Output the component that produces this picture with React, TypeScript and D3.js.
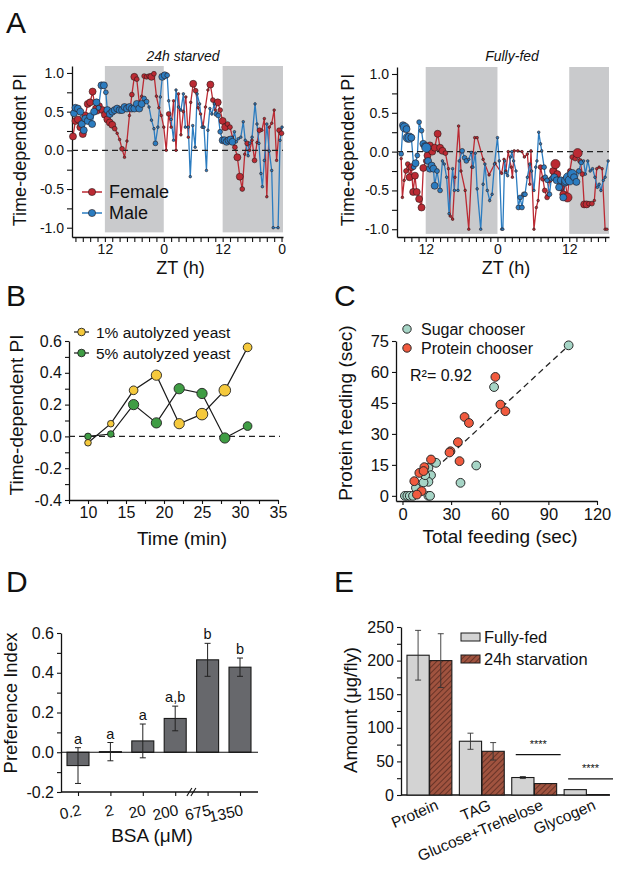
import React, { useRef, useEffect } from "react";
import * as d3 from "d3";

type Pt = [number, number, number]; // [hours since first ZT12, PI, flies feeding]

// ---- Panel A: time-dependent PI, 24h starved ----
const starvedFemale: Pt[] = [
  [-6.5, 0.18, 3], [-6, 0.38, 3], [-5.5, 0.4, 3], [-5, 0.3, 3], [-4.5, 0.21, 3], [-4, 0.45, 3],
  [-3.5, 0.6, 3], [-3, 0.62, 3], [-2.5, 0.76, 3], [-2, 0.55, 2], [-1.5, 0.5, 2], [-1, 0.58, 2],
  [-0.5, 0.52, 3], [0, 0.46, 3], [0.5, 0.4, 3], [1, 0.36, 3], [1.5, 0.33, 3], [2, 0.28, 2],
  [2.5, 0.22, 1], [3, 0.14, 1], [3.5, 0.02, 2], [4, -0.09, 1], [4.5, 0.12, 1], [5, 0.45, 1],
  [5.5, 0.72, 2], [6, 0.95, 3], [6.5, 0.92, 2], [7, 0.62, 1], [7.5, 0.7, 1], [8, 0.96, 2],
  [8.5, 0.95, 2], [9, 0.96, 2], [9.5, 0.95, 3], [10, 0.99, 2], [10.5, 0.7, 1], [11, 0.55, 1],
  [11.5, 0.45, 1], [12, 0.3, 1], [12.5, 0.0, 1], [13, 0.47, 2], [13.5, 0.3, 1], [14, 0.64, 1],
  [14.5, 0.0, 1], [15, 0.73, 1], [15.5, 0.2, 1], [16, 0.5, 1], [16.5, 0.69, 1], [17, 0.17, 1],
  [17.5, 0.62, 1], [18, 0.86, 3], [18.5, 0.77, 2], [19, 0.55, 1], [19.5, 0.47, 1], [20, 0.3, 1],
  [20.5, 0.56, 1], [21, 0.78, 1], [21.5, 0.85, 3], [22, 0.65, 2], [22.5, 0.52, 1], [23, 0.62, 3],
  [23.5, 0.52, 2], [24, 0.38, 3], [24.5, 0.3, 3], [25, 0.34, 2], [25.5, 0.3, 2], [26, 0.17, 1],
  [26.5, 0.04, 2], [27, -0.09, 3], [27.5, -0.34, 3], [28, -0.5, 2], [28.5, -0.05, 1], [29, 0.09, 2],
  [29.5, 0.0, 1], [30, 0.13, 1], [30.5, -0.13, 2], [31, 0.1, 1], [31.5, 0.26, 2], [32, 0.26, 1],
  [32.5, 0.41, 1], [33, -0.6, 1], [33.5, 0.3, 1], [34, 0.35, 1], [34.5, 0.52, 1], [35, -0.13, 1],
  [35.5, 0.26, 2], [36, 0.22, 2],
];
const starvedMale: Pt[] = [
  [-6.3, 0.48, 3], [-6, 0.55, 3], [-5.5, 0.54, 3], [-5, 0.5, 3], [-4.7, 0.34, 3], [-4.3, 0.26, 3],
  [-4, 0.41, 3], [-3.5, 0.38, 3], [-3, 0.44, 3], [-2.6, 0.34, 3], [-2.2, 0.5, 3], [-1.7, 0.62, 3],
  [-1.3, 0.55, 2], [-0.7, 0.84, 3], [-0.2, 0.84, 3], [0.2, 0.75, 2], [0.5, 0.52, 3], [1, 0.47, 3],
  [1.5, 0.5, 3], [2, 0.52, 3], [2.5, 0.54, 3], [3, 0.52, 3], [3.5, 0.52, 3], [4, 0.56, 3],
  [4.5, 0.54, 3], [5, 0.56, 3], [5.5, 0.54, 3], [6, 0.54, 3], [6.5, 0.6, 3], [7, 0.54, 3],
  [7.5, 0.6, 3], [8, 0.67, 2], [8.5, 0.63, 2], [9, 0.56, 1], [9.5, 0.39, 1], [10, 0.28, 1],
  [10.3, 0.09, 2], [10.8, 0.3, 1], [11.3, 0.69, 1], [11.7, 0.95, 3], [12.2, 0.97, 3], [12.7, 0.97, 2],
  [13, 0.64, 1], [13.5, 0.4, 1], [14, 0.13, 1], [14.5, 0.78, 1], [15, 0.56, 1], [15.5, 0.52, 1],
  [16, 0.73, 1], [16.4, 0.3, 1], [17, 0.3, 1], [17.4, -0.34, 1], [17.9, 0.32, 1], [18.4, 0.04, 1],
  [18.8, 0.73, 1], [19.3, 0.6, 1], [19.8, 0.3, 1], [20.2, 0.3, 1], [20.7, -0.26, 1], [21, 0.26, 1],
  [21.4, 0.54, 1], [21.8, 0.47, 1], [22.3, 0.6, 1], [22.7, 0.47, 2], [23.1, 0.45, 2], [23.5, 0.24, 2],
  [24, 0.13, 3], [24.4, 0.13, 3], [24.8, 0.11, 3], [25.2, 0.13, 3], [25.6, 0.14, 3], [26, 0.11, 3],
  [26.4, 0.24, 1], [26.8, 0.11, 1], [27.2, 0.15, 1], [27.7, 0.17, 1], [28.2, 0.37, 1], [28.6, 0.13, 1],
  [29.2, -0.07, 1], [29.5, 0.09, 1], [30, 0.17, 1], [30.6, 0.6, 1], [31, 0.34, 1], [31.4, 0.09, 1],
  [31.8, -0.3, 1], [32.1, -0.47, 1], [32.5, -0.13, 1], [33, 0.34, 1], [33.5, -0.01, 1], [34, -0.26, 1],
  [34.3, -1.0, 1], [35.3, -1.0, 1], [35.7, 0.13, 1], [36.1, 0.3, 1],
];

// ---- Panel A: time-dependent PI, fully-fed ----
const fedFemale: Pt[] = [
  [-4.1, -0.09, 1], [-3.9, -0.59, 1], [-3.6, -0.37, 1], [-3.3, -0.25, 2], [-3.0, -0.16, 2],
  [-2.7, -0.33, 3], [-2.4, -0.2, 3], [-2.1, -0.52, 3], [-1.8, -0.31, 3], [-1.5, -0.52, 3],
  [-1.1, -0.61, 3], [-0.7, -0.72, 3], [-0.4, -0.21, 3], [0, -0.12, 2], [0.3, -0.05, 3],
  [0.7, 0.08, 3], [1.1, 0.0, 3], [1.5, 0.05, 3], [2.0, 0.23, 3], [2.4, 0.05, 3], [2.8, 0.01, 3],
  [3.3, -0.02, 2], [3.8, -0.22, 1], [4.1, -0.83, 1], [4.5, -0.87, 1], [4.9, -0.33, 1], [5.5, 0.33, 1],
  [5.9, -0.25, 1], [6.6, -0.5, 1], [7.2, -1.0, 1], [7.7, -0.2, 1], [8.2, 0.18, 1], [8.6, 0.18, 1],
  [9.6, -0.1, 1], [10.6, -0.3, 1], [11.6, -0.15, 1], [12.7, -0.28, 1], [13.1, -0.1, 1],
  [13.4, -0.25, 1], [13.8, 0.0, 1], [14.3, -0.2, 1], [14.5, -0.33, 1], [14.8, 0.01, 1], [15.4, 0.01, 1],
  [16.1, 0.0, 1], [16.5, -0.07, 1], [17, -0.03, 1], [17.4, -0.42, 1], [17.6, 0.01, 1], [18.1, -1.0, 1],
  [18.5, -0.72, 1], [18.8, -0.63, 1], [19.2, -0.2, 2], [19.6, -0.35, 2], [19.9, -0.5, 2],
  [20.3, -0.59, 2], [20.7, -0.37, 2], [21.3, -0.25, 3], [21.7, -0.16, 4], [22, -0.29, 3],
  [22.6, -0.46, 3], [23, -0.55, 3], [23.3, -0.37, 3], [23.7, -0.59, 4], [24.1, -0.25, 2],
  [24.5, -0.07, 2], [25, -0.09, 2], [25.4, -0.02, 4], [25.8, -0.12, 2], [26.2, -0.29, 2],
  [26.5, -0.68, 3], [26.9, -0.68, 3], [27.3, -0.67, 2], [27.8, -0.67, 2], [28.2, -0.63, 1],
  [28.6, -0.22, 1], [29, -0.2, 1], [29.5, -0.22, 1], [30, -1.0, 1], [30.3, -1.0, 1],
];
const fedMale: Pt[] = [
  [-4.1, -0.03, 2], [-3.8, 0.34, 3], [-3.5, 0.31, 4], [-3.2, 0.29, 3], [-3.0, 0.18, 4], [-2.7, 0.18, 4],
  [-2.4, 0.18, 3], [-2.0, -0.2, 2], [-1.7, -0.15, 3], [-1.4, -0.05, 2], [-1.1, 0.38, 2], [-0.7, 0.27, 2],
  [-0.4, 0.1, 3], [-0.1, 0.07, 3], [0.1, 0.05, 4], [0.4, -0.12, 3], [0.7, -0.22, 3], [1.0, -0.18, 3],
  [1.3, -0.22, 3], [1.5, -0.44, 3], [1.9, -0.25, 2], [2.4, -0.5, 2], [2.8, -0.12, 1], [3.1, -0.16, 1],
  [3.5, -0.33, 1], [3.9, -0.8, 1], [4.5, -0.22, 1], [4.8, -0.5, 1], [5.4, -0.5, 1], [5.6, -0.12, 1],
  [6.1, 0.01, 2], [6.5, -0.08, 2], [6.8, -0.12, 2], [7.2, -0.1, 1], [7.6, -0.01, 1], [7.9, -0.2, 1],
  [8.3, -0.02, 1], [8.6, -0.48, 1], [9.2, -1.0, 1], [9.6, -0.42, 1], [9.9, -0.16, 1], [10.3, -0.5, 1],
  [10.7, -0.63, 1], [11.1, -0.55, 1], [11.5, -0.16, 1], [12, 0.18, 1], [12.3, -0.12, 1], [12.7, -1.0, 1],
  [12.9, -1.0, 1], [13.2, -0.12, 1], [13.4, -0.27, 1], [13.7, -0.31, 1], [14.2, -0.07, 1], [14.4, 0.0, 1],
  [14.7, -0.12, 1], [15.1, -0.25, 1], [15.5, -0.72, 2], [15.8, -0.59, 2], [16.1, -0.72, 2], [16.4, -0.55, 2],
  [16.6, -0.55, 2], [17, -0.33, 1], [17.4, -0.16, 1], [17.7, -0.25, 1], [18.1, -0.5, 1], [18.4, -0.2, 1],
  [18.6, -0.12, 1], [18.9, 0.25, 1], [19.2, 0.1, 1], [19.4, 0.01, 1], [19.8, -0.2, 2], [20, -0.33, 2],
  [20.3, -0.37, 2], [20.7, -0.55, 2], [21, -0.35, 2], [21.5, -0.33, 3], [21.9, -0.37, 3], [22.3, -0.46, 3],
  [22.6, -0.37, 3], [23, -0.59, 3], [23.3, -0.4, 3], [23.5, -0.37, 4], [23.8, -0.33, 4], [24.1, -0.37, 4],
  [24.5, -0.29, 4], [24.8, -0.33, 3], [25.2, -0.39, 3], [25.6, -0.25, 2], [26, -0.14, 2], [26.4, -0.12, 1],
  [26.7, -0.29, 1], [27.1, -0.12, 1], [27.5, -0.25, 1], [27.9, -0.22, 1], [28.3, -0.33, 1], [28.7, -0.46, 1],
  [29, -0.42, 1], [29.3, -0.5, 1], [29.7, -0.37, 1], [30, -0.33, 1], [30.5, -0.12, 1],
];
const starvedTickLabels: [number, string][] = [[0, "12"], [12, "0"], [24, "12"], [36, "0"]];
const fedTickLabels: [number, string][] = [[0, "12"], [12, "0"], [24, "12"]];

// ---- Panel B ----
const yeastTimes = [10, 13, 16, 19, 22, 25, 28, 31];
const yeast1PI = [-0.04, 0.08, 0.29, 0.385, 0.08, 0.14, 0.29, 0.56];
const yeast1N = [1, 1, 2, 3, 3, 4, 4, 2];
const yeast5PI = [0.0, 0.015, 0.2, 0.085, 0.3, 0.27, -0.01, 0.065];
const yeast5N = [1, 1, 3, 3, 3, 3, 3, 2];

// ---- Panel C ----
const sugarTotal = [102.5, 56.5, 45.5, 35.8, 20.7, 16, 17.6, 16, 13, 14, 8.3, 16, 1.5, 3, 4.5, 6.5, 17];
const sugarProtein = [72.9, 52.7, 14.7, 6.3, 16, 13.5, 10, 6.8, 6.5, 10, 3.9, 0, 0, 0, 0, 0, 0];
const proteinTotal = [57.3, 60.4, 63.5, 38.3, 41, 34.2, 29.6, 29, 35.2, 17.6, 13.5, 10.4, 7.3, 11.8, 8.9, 13];
const proteinProtein = [57.6, 44.2, 41, 38.2, 35.3, 26, 21.6, 21, 16.8, 17.6, 13.9, 11.1, 7.1, 2.3, 0.6, 12];
const fitLine: [number, number][] = [[25, 16.6], [101, 71.7]];

// ---- Panel D ----
const bsaLabels = ["0.2", "2", "20", "200", "675", "1350"];
const bsaPI = [-0.067, 0.003, 0.057, 0.17, 0.465, 0.428];
const bsaErr = [0.09, 0.046, 0.085, 0.062, 0.083, 0.046];
const bsaLetters = ["a", "a", "a", "a,b", "b", "b"];

// ---- Panel E ----
const nutrients = ["Protein", "TAG", "Glucose+Trehelose", "Glycogen"];
const fedAmount = [208, 80, 26, 8];
const fedErr = [37, 12, 1.5, 0];
const starvedAmount = [200, 65, 17, 0.6];
const starvedErr = [40, 13, 0, 0];
const sigLevel = [0, 0, 60, 24];

const FONT = "'Liberation Sans', Arial, sans-serif";
const RED = "#bb2a33";
const BLUE = "#2b7cc0";

function styleAxis(g: any, fs: number) {
  g.select(".domain").attr("stroke", "#111").attr("stroke-width", 1.3);
  g.selectAll(".tick line").attr("stroke", "#111").attr("stroke-width", 1.1);
  g.selectAll(".tick text").attr("font-size", fs).attr("font-family", FONT).attr("fill", "#111");
}

function fmt1(v: number) {
  return Math.abs(v) < 1e-9 ? "0.0" : v.toFixed(1);
}

function text(svg: any, x: number, y: number, s: string, fs: number, anchor = "middle") {
  return svg.append("text").attr("x", x).attr("y", y).attr("font-size", fs)
    .attr("font-family", FONT).attr("fill", "#111").attr("text-anchor", anchor).text(s);
}

function yLabel(svg: any, x: number, y: number, s: string, fs: number) {
  svg.append("text").attr("transform", `translate(${x},${y}) rotate(-90)`)
    .attr("font-size", fs).attr("font-family", FONT).attr("fill", "#111")
    .attr("text-anchor", "middle").attr("dominant-baseline", "middle").text(s);
}

function drawTS(svg: any, o: any) {
  const x = d3.scaleLinear().domain(o.xDom).range(o.xRange);
  const y = d3.scaleLinear().domain(o.yDom).range([o.bottom, o.top]);
  const r = d3.scaleLinear().domain([1, 4]).range([1.3, 4.6]);
  const g = svg.append("g");

  o.bands.forEach(([a, b]: number[]) => {
    g.append("rect").attr("x", x(a)).attr("y", o.top)
      .attr("width", x(b) - x(a)).attr("height", y(-1.06) - o.top).attr("fill", "#c9cacc");
  });

  const lab = (h: number) => {
    const m = o.labels.find((l: [number, string]) => Math.abs(l[0] - h) < 1e-6);
    return m ? m[1] : "";
  };
  const xa = g.append("g").attr("transform", `translate(0,${o.bottom})`)
    .call(d3.axisBottom(x).tickValues(o.ticks).tickSize(5).tickSizeOuter(0).tickPadding(2).tickFormat((d: any) => lab(d)));
  styleAxis(xa, 14);
  const ya = g.append("g").attr("transform", `translate(${o.xRange[0]},0)`)
    .call(d3.axisLeft(y).tickValues(d3.range(-4, 5).map((k) => k * 0.25)).tickSize(5).tickSizeOuter(0).tickPadding(3)
      .tickFormat((d: any) => (Math.abs(d * 2 - Math.round(d * 2)) < 1e-6 ? fmt1(d) : "")));
  styleAxis(ya, 14);

  const line = d3.line<Pt>().x((d) => x(d[0])).y((d) => y(d[1]));
  const series: [Pt[], string][] = [[o.female, RED], [o.male, BLUE]];
  series.forEach(([data, c]) => {
    g.append("path").datum(data).attr("d", line).attr("fill", "none").attr("stroke", c).attr("stroke-width", 1.3);
  });
  g.append("line").attr("x1", o.xRange[0]).attr("x2", o.xRange[1]).attr("y1", y(0)).attr("y2", y(0))
    .attr("stroke", "#222").attr("stroke-width", 1.3).attr("stroke-dasharray", "6,4");
  series.forEach(([data, c]) => {
    g.selectAll(null).data(data).join("circle")
      .attr("cx", (d: Pt) => x(d[0])).attr("cy", (d: Pt) => y(d[1])).attr("r", (d: Pt) => r(d[2]))
      .attr("fill", c).attr("stroke", "#2a1a1a").attr("stroke-width", 0.6);
  });

  text(svg, o.titleX, 61, o.title, 14).attr("font-style", "italic");
  text(svg, (o.xRange[0] + o.xRange[1]) / 2 + 3, 274, "ZT (h)", 18);
  yLabel(svg, o.yLabelX, 150, "Time-dependent PI", 18);

  if (o.legend) {
    [["Female", RED, 192], ["Male", BLUE, 213]].forEach(([name, c, ly]: any) => {
      svg.append("line").attr("x1", 82).attr("x2", 102).attr("y1", ly).attr("y2", ly).attr("stroke", c).attr("stroke-width", 1.5);
      svg.append("circle").attr("cx", 92).attr("cy", ly).attr("r", 3.6).attr("fill", c).attr("stroke", "#2a1a1a").attr("stroke-width", 0.6);
      text(svg, 109, ly + 6, name, 18, "start");
    });
  }
}

export default function App() {
  const svgRef = useRef<SVGSVGElement>(null);

  useEffect(() => {
    const svg = d3.select(svgRef.current);
    svg.selectAll("*").remove();

    const defs = svg.append("defs");
    const pat = defs.append("pattern").attr("id", "hatch").attr("patternUnits", "userSpaceOnUse")
      .attr("width", 4).attr("height", 4).attr("patternTransform", "rotate(45)");
    pat.append("rect").attr("width", 4).attr("height", 4).attr("fill", "#a0533f");
    pat.append("line").attr("x1", 0).attr("y1", 0).attr("x2", 0).attr("y2", 4).attr("stroke", "#5a2a20").attr("stroke-width", 1.6);

    // panel letters
    [["A", 6, 33], ["B", 6, 306], ["C", 334, 306], ["D", 6, 592], ["E", 334, 592]].forEach(([l, x, y]: any) =>
      text(svg, x, y, l, 30, "start"));

    // ---------- A ----------
    drawTS(svg, {
      xDom: [-6.7, 36.3], xRange: [72, 283], yDom: [-1.12, 1.09], top: 66, bottom: 237,
      bands: [[0, 12], [24, 36.3]], ticks: d3.range(-4, 25).map((k) => k * 1.5), labels: starvedTickLabels,
      female: starvedFemale, male: starvedMale, title: "24h starved", titleX: 183, yLabelX: 21, legend: true,
    });
    drawTS(svg, {
      xDom: [-4.8, 30.65], xRange: [397, 609], yDom: [-1.1, 1.09], top: 67, bottom: 237,
      bands: [[0, 12], [24, 30.65]], ticks: d3.range(-3, 26).map((k) => k * 1.2), labels: fedTickLabels,
      female: fedFemale, male: fedMale, title: "Fully-fed", titleX: 512, yLabelX: 349, legend: false,
    });

    // ---------- B ----------
    {
      const x = d3.scaleLinear().domain([7.5, 35]).range([69, 278]);
      const y = d3.scaleLinear().domain([-0.4, 0.6]).range([500, 341]);
      const r = d3.scaleSqrt().domain([1, 4]).range([3.3, 5.8]);
      const xa = svg.append("g").attr("transform", "translate(0,500)")
        .call(d3.axisBottom(x).tickValues(d3.range(3, 15).map((k) => k * 2.5)).tickSize(4).tickSizeOuter(0).tickPadding(3)
          .tickFormat((d: any) => (d % 5 === 0 ? String(d) : "")));
      styleAxis(xa, 16);
      const ya = svg.append("g").attr("transform", "translate(69,0)")
        .call(d3.axisLeft(y).tickValues(d3.range(-4, 7).map((k) => k / 10)).tickSize(4).tickSizeOuter(0).tickPadding(3)
          .tickFormat((d: any) => (Math.round(d * 10) % 2 === 0 ? fmt1(d) : "")));
      styleAxis(ya, 16);
      svg.append("line").attr("x1", 69).attr("x2", 280).attr("y1", y(0)).attr("y2", y(0))
        .attr("stroke", "#222").attr("stroke-width", 1.3).attr("stroke-dasharray", "6,4");
      const sets: [number[], number[], string][] = [[yeast5PI, yeast5N, "#3f9d44"], [yeast1PI, yeast1N, "#f5c93c"]];
      const line = d3.line<number>().x((_, i) => x(yeastTimes[i])).y((d) => y(d));
      sets.forEach(([pi]) => svg.append("path").datum(pi).attr("d", line).attr("fill", "none").attr("stroke", "#1a1a1a").attr("stroke-width", 1.2));
      sets.forEach(([pi, n, c]) => {
        svg.selectAll(null).data(pi).join("circle")
          .attr("cx", (_: any, i: number) => x(yeastTimes[i])).attr("cy", (d: number) => y(d))
          .attr("r", (_: any, i: number) => r(n[i])).attr("fill", c).attr("stroke", "#222").attr("stroke-width", 0.9);
      });
      [["1% autolyzed yeast", "#f5c93c", 332], ["5% autolyzed yeast", "#3f9d44", 353]].forEach(([name, c, ly]: any) => {
        svg.append("line").attr("x1", 74).attr("x2", 89).attr("y1", ly).attr("y2", ly).attr("stroke", "#1a1a1a").attr("stroke-width", 1.2);
        svg.append("circle").attr("cx", 81.5).attr("cy", ly).attr("r", 3.8).attr("fill", c).attr("stroke", "#222").attr("stroke-width", 0.9);
        text(svg, 96, ly + 5.5, name, 15.5, "start");
      });
      yLabel(svg, 18, 415, "Time-dependent PI", 19);
      text(svg, 182, 545, "Time (min)", 19);
    }

    // ---------- C ----------
    {
      const x = d3.scaleLinear().domain([-4, 120]).range([396, 597]);
      const y = d3.scaleLinear().domain([-2.5, 75]).range([501, 341]);
      const xa = svg.append("g").attr("transform", "translate(0,501)")
        .call(d3.axisBottom(x).tickValues([0, 30, 60, 90, 120]).tickSize(4).tickSizeOuter(0).tickPadding(3));
      styleAxis(xa, 16.5);
      const ya = svg.append("g").attr("transform", "translate(396,0)")
        .call(d3.axisLeft(y).tickValues([0, 15, 30, 45, 60, 75]).tickSize(4).tickSizeOuter(0).tickPadding(3));
      styleAxis(ya, 16.5);
      svg.append("line").attr("x1", x(fitLine[0][0])).attr("y1", y(fitLine[0][1]))
        .attr("x2", x(fitLine[1][0])).attr("y2", y(fitLine[1][1]))
        .attr("stroke", "#222").attr("stroke-width", 1.3).attr("stroke-dasharray", "6,4");
      const groups: [number[], number[], string][] = [[sugarTotal, sugarProtein, "#a6d5c6"], [proteinTotal, proteinProtein, "#f15a3e"]];
      groups.forEach(([tx, py, c]) => {
        svg.selectAll(null).data(tx).join("circle")
          .attr("cx", (d: number) => x(d)).attr("cy", (_: any, i: number) => y(py[i])).attr("r", 4.4)
          .attr("fill", c).attr("stroke", "#2a2a2a").attr("stroke-width", 1);
      });
      [["Sugar chooser", "#a6d5c6", 329], ["Protein chooser", "#f15a3e", 348]].forEach(([name, c, ly]: any) => {
        svg.append("circle").attr("cx", 407).attr("cy", ly).attr("r", 4.2).attr("fill", c).attr("stroke", "#2a2a2a").attr("stroke-width", 1);
        text(svg, 421, ly + 5.5, name, 16, "start");
      });
      text(svg, 410, 381, "R²= 0.92", 16, "start");
      yLabel(svg, 347, 413, "Protein feeding (sec)", 19);
      text(svg, 500, 543, "Total feeding (sec)", 19);
    }

    // ---------- D ----------
    {
      const x = d3.scalePoint<string>().domain(bsaLabels).range([78, 240]);
      const y = d3.scaleLinear().domain([-0.2, 0.6]).range([792, 633]);
      const bw = 22;
      const ya = svg.append("g").attr("transform", "translate(61,0)")
        .call(d3.axisLeft(y).tickValues(d3.range(-2, 7).map((k) => k / 10)).tickSize(4).tickSizeOuter(0).tickPadding(3)
          .tickFormat((d: any) => (Math.round(d * 10) % 2 === 0 ? fmt1(d) : "")));
      styleAxis(ya, 16);
      const xa = svg.append("g").attr("transform", "translate(0,792)")
        .call(d3.axisBottom(x).tickSize(4).tickSizeOuter(0).tickFormat(() => ""));
      styleAxis(xa, 15);
      xa.select(".domain").attr("d", "M61,0H258");
      bsaLabels.forEach((l) => {
        svg.append("text").attr("transform", `translate(${(x(l) as number) + 4},815) rotate(-12)`)
          .attr("text-anchor", "end").attr("font-size", 15.5).attr("font-family", FONT).attr("fill", "#111").text(l);
      });
      const bx = ((x("200") as number) + (x("675") as number)) / 2;
      [-2, 2].forEach((dx) => svg.append("line").attr("x1", bx + dx - 2.5).attr("y1", 796).attr("x2", bx + dx + 2.5).attr("y2", 788)
        .attr("stroke", "#111").attr("stroke-width", 1.1));
      bsaPI.forEach((v, i) => {
        const cx = x(bsaLabels[i]) as number;
        svg.append("rect").attr("x", cx - bw / 2).attr("width", bw)
          .attr("y", Math.min(y(v), y(0))).attr("height", Math.abs(y(v) - y(0)))
          .attr("fill", "#67686c").attr("stroke", "#1a1a1a").attr("stroke-width", 1.1);
      });
      svg.append("line").attr("x1", 61).attr("x2", 258).attr("y1", y(0)).attr("y2", y(0)).attr("stroke", "#111").attr("stroke-width", 1.1);
      bsaPI.forEach((v, i) => {
        const cx = x(bsaLabels[i]) as number;
        const t = y(v + bsaErr[i]), b = y(v - bsaErr[i]);
        svg.append("line").attr("x1", cx).attr("x2", cx).attr("y1", t).attr("y2", b).attr("stroke", "#222").attr("stroke-width", 1);
        [t, b].forEach((yy) => svg.append("line").attr("x1", cx - 3).attr("x2", cx + 3).attr("y1", yy).attr("y2", yy).attr("stroke", "#222").attr("stroke-width", 1));
        text(svg, cx, t - 4, bsaLetters[i], 14.5);
      });
      yLabel(svg, 12, 703, "Preference Index", 18.5);
      text(svg, 152, 842, "BSA (μM)", 19);
    }

    // ---------- E ----------
    {
      const x0 = d3.scaleBand<string>().domain(nutrients).range([401, 615]).paddingInner(0.143).paddingOuter(0.114);
      const x1 = d3.scaleBand<string>().domain(["fed", "starved"]).range([0, x0.bandwidth()]).paddingInner(0.02);
      const y = d3.scaleLinear().domain([0, 250]).range([795, 627]);
      const ya = svg.append("g").attr("transform", "translate(401,0)")
        .call(d3.axisLeft(y).tickValues(d3.range(0, 251, 25)).tickSize(4).tickSizeOuter(0).tickPadding(3)
          .tickFormat((d: any) => (d % 50 === 0 ? String(d) : "")));
      styleAxis(ya, 16);
      svg.append("line").attr("x1", 401).attr("x2", 610).attr("y1", 795).attr("y2", 795).attr("stroke", "#111").attr("stroke-width", 1.3);

      const bars: [number[], number[], string, string][] = [[fedAmount, fedErr, "fed", "#d3d3d3"], [starvedAmount, starvedErr, "starved", "url(#hatch)"]];
      bars.forEach(([vals, errs, key, fill]) => {
        vals.forEach((v, i) => {
          const bx = (x0(nutrients[i]) as number) + (x1(key) as number);
          const w = x1.bandwidth();
          svg.append("rect").attr("x", bx).attr("y", y(v)).attr("width", w).attr("height", y(0) - y(v))
            .attr("fill", fill).attr("stroke", "#1a1a1a").attr("stroke-width", 1.1);
          if (errs[i] > 0) {
            const cx = bx + w / 2, t = y(v + errs[i]), b = y(v - errs[i]);
            svg.append("line").attr("x1", cx).attr("x2", cx).attr("y1", t).attr("y2", b).attr("stroke", "#333").attr("stroke-width", 0.9);
            [t, b].forEach((yy) => svg.append("line").attr("x1", cx - 3).attr("x2", cx + 3).attr("y1", yy).attr("y2", yy).attr("stroke", "#333").attr("stroke-width", 0.9));
          }
        });
      });
      sigLevel.forEach((s, i) => {
        if (!s) return;
        const gx = x0(nutrients[i]) as number;
        svg.append("line").attr("x1", gx + 4).attr("x2", gx + x0.bandwidth() + 4).attr("y1", y(s)).attr("y2", y(s)).attr("stroke", "#111").attr("stroke-width", 1.2);
        text(svg, gx + x0.bandwidth() / 2 + 4, y(s) - 7, "****", 11);
      });
      nutrients.forEach((n) => {
        const cx = (x0(n) as number) + x0.bandwidth() / 2;
        svg.append("text").attr("transform", `translate(${cx + 10},809) rotate(-23)`)
          .attr("text-anchor", "end").attr("font-size", 15.5).attr("font-family", FONT).attr("fill", "#111").text(n);
      });
      [["Fully-fed", "#d3d3d3", 633], ["24h starvation", "url(#hatch)", 655]].forEach(([name, fill, ly]: any) => {
        svg.append("rect").attr("x", 461).attr("y", ly).attr("width", 19).attr("height", 8).attr("fill", fill).attr("stroke", "#1a1a1a").attr("stroke-width", 1);
        text(svg, 484, ly + 10, name, 16.5, "start");
      });
      yLabel(svg, 352, 710, "Amount (μg/fly)", 18.5);
    }
  }, []);

  return (
    <svg ref={svgRef} width={617} height={874}
      style={{ position: "absolute", left: 0, top: 0, background: "#fff" }} />
  );
}
